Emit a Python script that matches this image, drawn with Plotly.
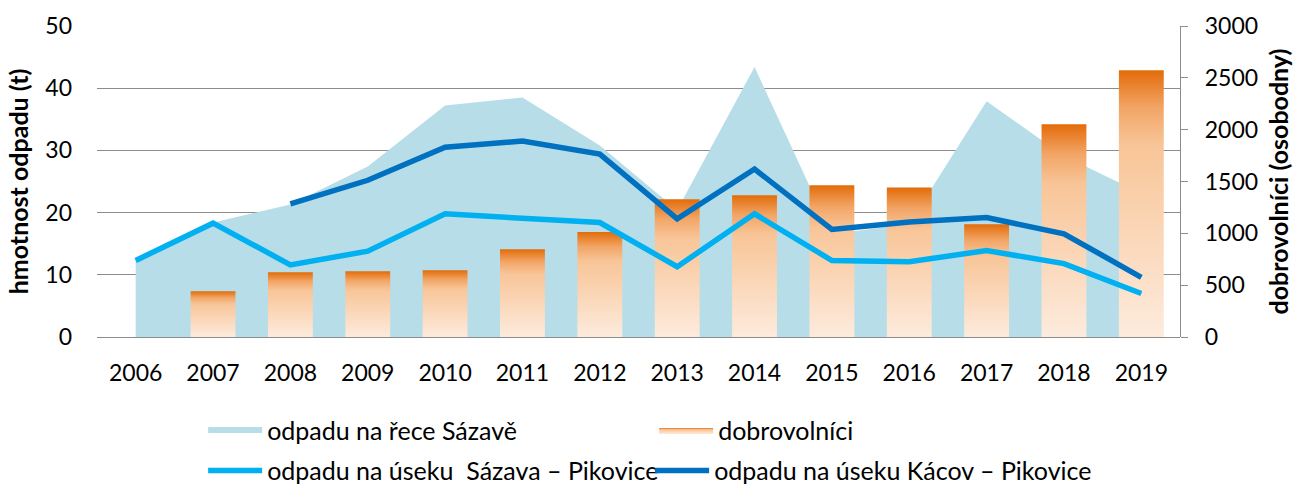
import plotly.graph_objects as go

# ---- data ----
years = ['2006', '2007', '2008', '2009', '2010', '2011', '2012',
         '2013', '2014', '2015', '2016', '2017', '2018', '2019']
waste_river_sazava = [12.3, 18.4, 21.3, 27.4, 37.2, 38.5, 30.8,
                      20.4, 43.4, 16.5, 18.2, 37.9, 29.1, 23.1]
volunteers = [None, 441, 624, 634, 643, 846, 1013,
              1328, 1367, 1463, 1441, 1087, 2052, 2573]
waste_sazava_pikovice = [12.3, 18.3, 11.6, 13.8, 19.8, 19.2, 18.4,
                         11.3, 19.8, 12.3, 12.1, 13.9, 11.8, 7.0]
waste_kacov_pikovice = [None, None, 21.4, 25.2, 30.5, 31.5, 29.4,
                        19.0, 27.0, 17.3, 18.5, 19.2, 16.6, 9.6]
left_ticks = [0, 10, 20, 30, 40, 50]
right_ticks = [0, 500, 1000, 1500, 2000, 2500, 3000]

FONT = 'Lato'
GRID = '#8C8C8C'
BAR_HALF = 0.29
bar_scale = [[0.0, '#FDEBDD'], [0.72, '#F8C598'], [0.86, '#F2A566'], [1.0, '#E36C09']]

idx = list(range(len(years)))
fig = go.Figure()

# area (left axis)
fig.add_trace(go.Scatter(
    x=idx, y=waste_river_sazava, mode='none', fill='tozeroy',
    fillcolor='#B7DDE8', name='odpadu na řece Sázavě',
    legend='legend', xaxis='x', yaxis='y'))

# volunteers bars (right axis) drawn as gradient-filled rectangles
first = True
for i, v in zip(idx, volunteers):
    if v is None:
        continue
    fig.add_trace(go.Scatter(
        x=[i - BAR_HALF, i + BAR_HALF, i + BAR_HALF, i - BAR_HALF, i - BAR_HALF],
        y=[0, 0, v, v, 0],
        mode='lines', line=dict(width=0, color='rgba(0,0,0,0)'),
        fill='toself',
        fillgradient=dict(type='vertical', colorscale=bar_scale, start=0, stop=v),
        name='dobrovolníci', legendgroup='vol', showlegend=first,
        legend='legend', xaxis='x', yaxis='y2'))
    first = False

# lines (left scale, drawn above bars)
fig.add_trace(go.Scatter(
    x=idx, y=waste_sazava_pikovice, mode='lines',
    line=dict(color='#00B0F0', width=5.5),
    name='odpadu na úseku  Sázava – Pikovice',
    legend='legend2', xaxis='x', yaxis='y3'))
fig.add_trace(go.Scatter(
    x=idx, y=waste_kacov_pikovice, mode='lines',
    line=dict(color='#0070C0', width=5.5),
    name='odpadu na úseku Kácov – Pikovice',
    legend='legend2', xaxis='x', yaxis='y3'))

fig.update_layout(
    width=1299, height=486, autosize=False,
    margin=dict(l=97, r=119, t=26, b=149, autoexpand=False),
    paper_bgcolor='white', plot_bgcolor='white',
    font=dict(family=FONT, size=23, color='#000000'),
    xaxis=dict(range=[-0.5, 13.5], tickvals=idx, ticktext=years,
               showgrid=False, zeroline=False, showline=False, ticks='',
               automargin=False,
               ticklabelstandoff=20, tickfont=dict(size=23)),
    yaxis=dict(range=[0, 50], tickvals=left_ticks, showgrid=True,
               gridcolor=GRID, gridwidth=1.3, zeroline=True,
               zerolinecolor=GRID, zerolinewidth=1.3, showline=False,
               automargin=False,
               ticks='', ticklabelstandoff=24, tickfont=dict(size=23),
               title=dict(text='hmotnost odpadu (t)', standoff=9,
                          font=dict(size=25, weight='bold'))),
    yaxis2=dict(range=[0, 3000], tickvals=right_ticks, overlaying='y',
                side='right', showgrid=False, zeroline=False, showline=True,
                automargin=False,
                linecolor=GRID, linewidth=1.3, ticks='outside', ticklen=7,
                tickcolor=GRID, tickwidth=1.3, ticklabelstandoff=12,
                tickfont=dict(size=23),
                title=dict(text='dobrovolníci (osobodny)', standoff=13,
                           font=dict(size=25, weight='bold'))),
    yaxis3=dict(range=[0, 50], overlaying='y', visible=False, automargin=False),
    legend=dict(orientation='h', x=0.098, y=-0.300, xanchor='left',
                yanchor='middle', entrywidth=382, entrywidthmode='pixels',
                itemwidth=54, font=dict(size=25), bgcolor='rgba(0,0,0,0)'),
    legend2=dict(orientation='h', x=0.098, y=-0.430, xanchor='left',
                 yanchor='middle', entrywidth=378, entrywidthmode='pixels',
                 itemwidth=54, font=dict(size=25), bgcolor='rgba(0,0,0,0)'),
)

fig.write_html('out.html', config={'displayModeBar': False},
               post_script="document.body.style.margin='0';document.body.style.overflow='hidden';")
